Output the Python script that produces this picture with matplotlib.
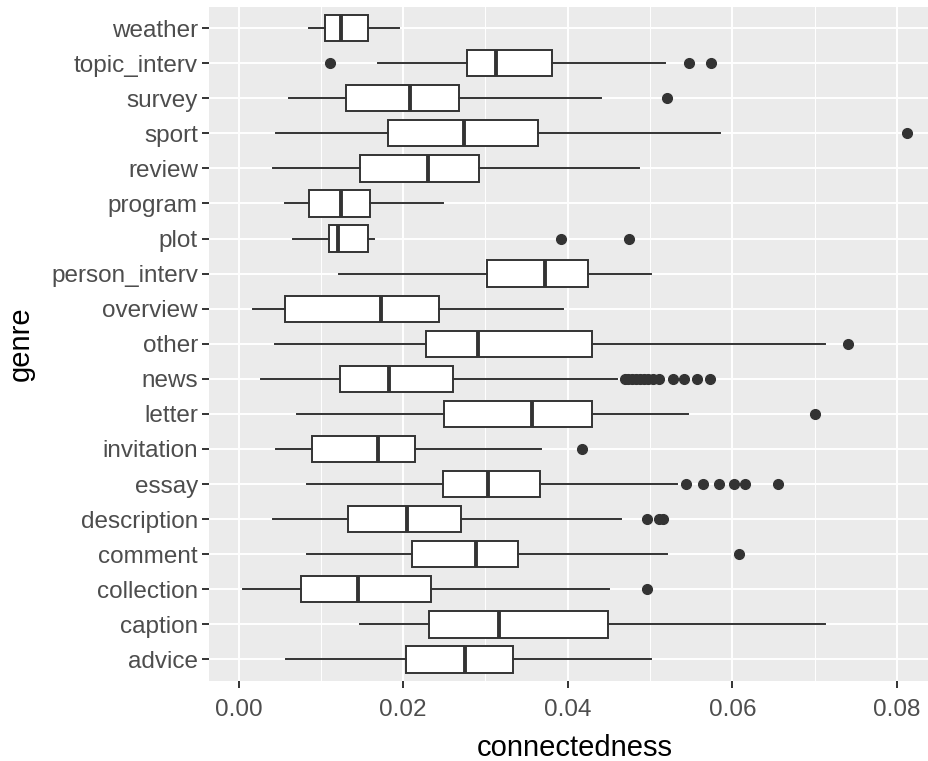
import matplotlib
matplotlib.use("Agg")
import matplotlib.pyplot as plt
from matplotlib.ticker import MultipleLocator, FuncFormatter

plt.rcParams['font.family'] = ['Liberation Sans', 'DejaVu Sans']

# genres listed top to bottom as they appear on the chart
genres = ["weather", "topic_interv", "survey", "sport", "review", "program", "plot",
          "person_interv", "overview", "other", "news", "letter", "invitation", "essay",
          "description", "comment", "collection", "caption", "advice"]

whislo = [0.0085, 0.0169, 0.0061, 0.0046, 0.0042, 0.0056, 0.0066, 0.0122, 0.0017, 0.0044,
          0.0027, 0.0071, 0.0046, 0.0083, 0.0042, 0.0083, 0.0005, 0.0147, 0.0058]
q1 = [0.0105, 0.0277, 0.0130, 0.0182, 0.0147, 0.0086, 0.0110, 0.0302, 0.0056, 0.0228,
      0.0123, 0.0250, 0.0089, 0.0248, 0.0133, 0.0211, 0.0076, 0.0231, 0.0204]
med = [0.0124, 0.0313, 0.0208, 0.0274, 0.0230, 0.0124, 0.0121, 0.0372, 0.0173, 0.0291,
       0.0183, 0.0357, 0.0169, 0.0303, 0.0205, 0.0289, 0.0145, 0.0316, 0.0275]
q3 = [0.0157, 0.0381, 0.0268, 0.0364, 0.0292, 0.0160, 0.0157, 0.0425, 0.0244, 0.0430,
      0.0261, 0.0430, 0.0214, 0.0366, 0.0270, 0.0339, 0.0234, 0.0449, 0.0334]
whishi = [0.0195, 0.0518, 0.0440, 0.0585, 0.0487, 0.0249, 0.0165, 0.0501, 0.0394, 0.0712,
          0.0460, 0.0546, 0.0367, 0.0533, 0.0465, 0.0521, 0.0450, 0.0713, 0.0501]
outliers = [[], [0.0111, 0.0547, 0.0574], [0.0520], [0.0812], [], [], [0.0392, 0.0474],
            [], [], [0.0741],
            [0.0469, 0.0473, 0.0478, 0.0483, 0.0488, 0.0493, 0.0498, 0.0503, 0.0511,
             0.0528, 0.0541, 0.0557, 0.0573],
            [0.0701], [0.0417], [0.0544, 0.0564, 0.0584, 0.0602, 0.0615, 0.0655],
            [0.0496, 0.0511, 0.0516], [0.0608], [0.0496], [], []]

n = len(genres)
positions = [n - i for i in range(n)]

stats = []
for i in range(n):
    stats.append(dict(label=genres[i], whislo=whislo[i], q1=q1[i], med=med[i],
                      q3=q3[i], whishi=whishi[i], fliers=outliers[i]))

dark = "#333333"
fig = plt.figure(figsize=(9.29, 7.61), dpi=100)
# panel runs a bit past the right edge, as in the reference
ax = fig.add_axes([209 / 929, 1 - 680.5 / 761, (940 - 209) / 929, (680.5 - 7) / 761])
ax.set_facecolor("#EBEBEB")

ax.bxp(stats, positions=positions, vert=False, widths=0.75, showcaps=False,
       patch_artist=True,
       boxprops=dict(facecolor="white", edgecolor=dark, linewidth=1.4),
       medianprops=dict(color=dark, linewidth=2.8),
       whiskerprops=dict(color=dark, linewidth=1.4),
       flierprops=dict(marker="o", markerfacecolor=dark, markeredgecolor=dark,
                       markersize=7))

ax.set_xlim(-0.00359, 0.08523)
ax.set_ylim(0.4, n + 0.6)
ax.xaxis.set_major_locator(MultipleLocator(0.02))
ax.xaxis.set_minor_locator(MultipleLocator(0.01))
ax.xaxis.set_major_formatter(FuncFormatter(lambda v, p: f"{v:.2f}"))
ax.set_yticks(positions)
ax.set_yticklabels(genres)

ax.set_axisbelow(True)
ax.grid(True, which="major", color="white", linewidth=1.4)
ax.grid(True, which="minor", axis="x", color="white", linewidth=0.7)
for s in ax.spines.values():
    s.set_visible(False)
ax.tick_params(which="major", color=dark, length=5, width=1.4,
               labelcolor="#4D4D4D", labelsize=17.5)
ax.tick_params(axis="y", pad=3)
ax.tick_params(axis="x", pad=8)
ax.tick_params(which="minor", length=0)

ax.set_xlabel("connectedness", fontsize=21, color="black", labelpad=10)
ax.set_ylabel("genre", fontsize=21, color="black", labelpad=12)

fig.savefig("out.png", dpi=100)
